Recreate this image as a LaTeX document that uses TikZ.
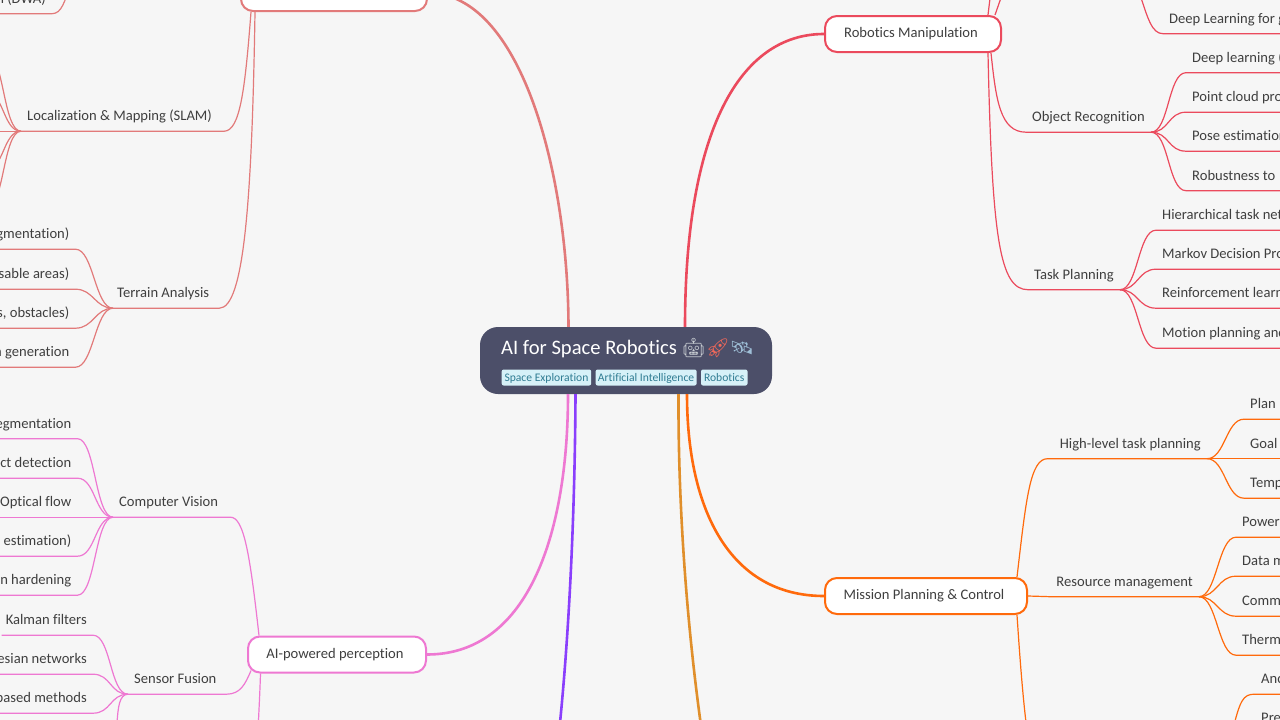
\documentclass[tikz,border=0pt]{standalone}
\usepackage{fontspec}
\setmainfont{Carlito}[Ligatures=CommonOff]
\newfontfamily\emojifont{Noto Emoji}
\usetikzlibrary{positioning}
\definecolor{paper}{HTML}{F6F6F6}
\definecolor{ink}{HTML}{3F3F3F}
\definecolor{rootfill}{HTML}{4C4F69}
\definecolor{tagfill}{HTML}{D6F1F8}
\definecolor{tagtext}{HTML}{2F7C92}
\definecolor{salmon}{HTML}{E27A7A}
\definecolor{rosered}{HTML}{EB4A5D}
\definecolor{orchid}{HTML}{EE78D2}
\definecolor{violet}{HTML}{8A3FFC}
\definecolor{amber}{HTML}{E08F2B}
\definecolor{tangerine}{HTML}{FF6A0C}
\definecolor{robotgrey}{HTML}{C9CED3}
\definecolor{rocketred}{HTML}{F0685A}
\definecolor{satblue}{HTML}{9FC0D8}
\tikzset{
lbl/.style={font=\fontsize{14.6}{16}\selectfont, text=ink, minimum height=30pt, inner xsep=6pt, inner ysep=0pt, text height=11.3pt, text depth=1.7pt},
branch/.style={font=\fontsize{14.6}{16}\selectfont, text=ink, fill=white, line width=2pt, rounded corners=12pt, minimum height=36pt, execute at end node=\hspace*{4pt}},
tagbox/.style={font=\fontsize{11.6}{12}\selectfont, text=tagtext, fill=tagfill, rounded corners=2pt, minimum height=16pt, inner sep=0pt, text height=9pt, text depth=1.5pt},
twig/.style={line width=1.2pt},
trunk/.style={line width=2.6pt}}

\begin{document}
\begin{tikzpicture}[x=1pt,y=-1pt]
        \useasboundingbox (0,0) rectangle (1280,720);
        \clip (0,0) rectangle (1280,720);
        \fill[paper] (0,0) rectangle (1280,720);

        \node (root) [fill=rootfill, rounded corners=18pt, minimum width=292pt, minimum height=67pt, inner sep=0pt] at (626,360.5) {};
        \node (title) [anchor=west, inner sep=0pt, text=white, font=\fontsize{20.6}{22}\selectfont] at (501,348.5) {AI for Space Robotics {\emojifont\fontsize{19}{22}\selectfont\textcolor{robotgrey}{🤖}\textcolor{rocketred}{🚀}\textcolor{satblue}{🛰}}};
        \node (tagspace) [tagbox, anchor=west, minimum width=89.5pt] at (501.5,377.5) {Space Exploration};
        \node (tagai) [tagbox, right=4pt of tagspace, minimum width=101pt] {Artificial Intelligence};
        \node (tagrobo) [tagbox, right=4pt of tagai, minimum width=46.5pt] {Robotics};

        \node (nav) [branch, draw=salmon, minimum width=186pt] at (334,-7) {};
        \node (manip) [branch, draw=rosered, minimum width=176pt] at (913,34) {Robotics Manipulation};
        \node (mission) [branch, draw=tangerine, minimum width=202pt] at (926,596) {Mission Planning \& Control};
        \node (percep) [branch, draw=orchid, minimum width=178pt] at (337,654.5) {AI-powered perception};

        \draw[trunk,salmon] ([xshift=-57.5pt]root.north) .. controls (568,170) and (520,-7) .. (nav.east);
        \draw[trunk,rosered] ([xshift=59pt]root.north) .. controls (685,130) and (740,34) .. (manip.west);
        \draw[trunk,orchid] ([xshift=-58pt]root.south) .. controls (568,530) and (530,654.5) .. (percep.east);
        \coordinate (violetend) at (556,760);
        \draw[trunk,violet] ([xshift=-50.5pt]root.south) .. controls (575,500) and (570,640) .. (violetend);
        \coordinate (amberend) at (706,760);
        \draw[trunk,amber] ([xshift=52.5pt]root.south) .. controls (678,500) and (686,630) .. (amberend);
        \draw[trunk,tangerine] ([xshift=61pt]root.south) .. controls (687,510) and (730,596) .. (mission.west);

        \node (objrec) [lbl, anchor=east] at (1151,117) {Object Recognition};
        \node (task) [lbl, anchor=east] at (1120,274.5) {Task Planning};
        \node (dlgrasp) [lbl, anchor=west] at (1163,18.5) {Deep Learning for g};
        \node (dlobj) [lbl, anchor=west] at (1186,57.5) {Deep learning (};
        \node (cloud) [lbl, anchor=west] at (1186,97) {Point cloud pro};
        \node (pose) [lbl, anchor=west] at (1186,136) {Pose estimation};
        \node (robust) [lbl, anchor=west] at (1186,175.5) {Robustness to};
        \node (htn) [lbl, anchor=west] at (1156,215) {Hierarchical task net};
        \node (mdp) [lbl, anchor=west] at (1156,254) {Markov Decision Pro};
        \node (rl) [lbl, anchor=west] at (1156,293) {Reinforcement learn};
        \node (motion) [lbl, anchor=west] at (1156,333) {Motion planning and};

        \coordinate (manipupa) at (991,-10);
        \coordinate (manipupb) at (1003,-8);
        \draw[twig,rosered] ([xshift=-14pt]manip.north east) -- (manipupa);
        \draw[twig,rosered] ([xshift=-7pt]manip.north east) -- (manipupb);
        \draw[twig,rosered] (objrec.south east) -- (objrec.south west) .. controls (1000,132) and (996,100) .. ([xshift=-11pt]manip.south east);
        \draw[twig,rosered] (task.south east) -- (task.south west) .. controls (1000,289.5) and (992,240) .. ([xshift=-14pt]manip.south east);
        \coordinate (graspfan) at (1138,-12);
        \draw[twig,rosered] (graspfan) .. controls (1148,20) and (1152,33.5) .. (dlgrasp.south west) -- ++(150,0);
        \foreach \leaf in {dlobj,cloud,pose,robust}
            \draw[twig,rosered] (objrec.south east) .. controls +(18,0) and +(-18,0) .. (\leaf.south west) -- ++(120,0);
        \foreach \leaf in {htn,mdp,rl,motion}
            \draw[twig,rosered] (task.south east) .. controls +(18,0) and +(-18,0) .. (\leaf.south west) -- ++(150,0);

        \node (high) [lbl, anchor=east] at (1207,443.5) {High-level task planning};
        \node (resource) [lbl, anchor=east] at (1199,581.5) {Resource management};
        \node (plan) [lbl, anchor=west] at (1244,404) {Plan};
        \node (goal) [lbl, anchor=west] at (1244,443.5) {Goal};
        \node (temp) [lbl, anchor=west] at (1244,483) {Temp};
        \node (power) [lbl, anchor=west] at (1236,522) {Power};
        \node (datam) [lbl, anchor=west] at (1236,561) {Data m};
        \node (comm) [lbl, anchor=west] at (1236,601) {Comm};
        \node (therm) [lbl, anchor=west] at (1236,640) {Therm};
        \node (anc) [lbl, anchor=west] at (1255,679) {Anc};
        \node (pre) [lbl, anchor=west] at (1255,718) {Pre};

        \draw[twig,tangerine] (high.south east) -- (high.south west) -- ++(-6,0) .. controls (1030,458.5) and (1026,500) .. ([xshift=-11pt]mission.north east);
        \draw[twig,tangerine] (resource.south east) -- (resource.south west) -- (mission.east);
        \coordinate (mishdown) at (1027,730);
        \draw[twig,tangerine] ([xshift=-11pt]mission.south east) .. controls (1020,660) and (1023,700) .. (mishdown);
        \foreach \leaf in {plan,goal,temp}
            \draw[twig,tangerine] (high.south east) .. controls +(18,0) and +(-18,0) .. (\leaf.south west) -- ++(60,0);
        \foreach \leaf in {power,datam,comm,therm}
            \draw[twig,tangerine] (resource.south east) .. controls +(18,0) and +(-18,0) .. (\leaf.south west) -- ++(60,0);
        \coordinate (ancfan) at (1232,733);
        \draw[twig,tangerine] (ancfan) .. controls (1240,700) and (1243,694) .. (anc.south west) -- ++(40,0);

        \node (slam) [lbl, anchor=west] at (21,116) {Localization \& Mapping (SLAM)};
        \node (terrain) [lbl, anchor=west, inner xsep=4pt] at (113,293) {Terrain Analysis};
        \node (dwa) [lbl, anchor=east] at (52,-1.5) {n (DWA)};
        \node (segm) [lbl, anchor=east] at (75.5,234) {gmentation)};
        \node (sable) [lbl, anchor=east] at (75.5,274) {sable areas)};
        \node (obst) [lbl, anchor=east] at (75.5,313) {s, obstacles)};
        \node (pathgen) [lbl, anchor=east] at (75.5,352) {n generation};

        \coordinate (dwafan) at (72,-18);
        \draw[twig,salmon] (dwafan) .. controls (64,2) and (62,13.5) .. (dwa.south east) -- ++(-60,0);
        \foreach \off in {(-14,52),(-14,92),(-14,170),(-14,210)}
            \draw[twig,salmon] (slam.south west) .. controls +(-18,0) and +(18,0) .. \off;
        \draw[twig,salmon] (slam.south west) -- ++(-30,0);
        \draw[twig,salmon] (slam.south west) -- (slam.south east) -- ++(6,0) .. controls (240,131) and (245,90) .. ([xshift=11pt]nav.south west);
        \draw[twig,salmon] (terrain.south west) -- (terrain.south east) -- ++(6,0) .. controls (244,308) and (252,200) .. ([xshift=15pt]nav.south west);
        \foreach \leaf in {segm,sable,obst,pathgen}
            \draw[twig,salmon] (terrain.south west) .. controls +(-18,0) and +(18,0) .. (\leaf.south east) -- ++(-90,0);

        \node (vision) [lbl, anchor=west] at (113,502) {Computer Vision};
        \node (fusion) [lbl, anchor=west] at (128,679) {Sensor Fusion};
        \node (imgseg) [lbl, anchor=east] at (77.5,423.5) {egmentation};
        \node (objdet) [lbl, anchor=east] at (77.5,463) {ct detection};
        \node (flow) [lbl, anchor=east] at (77.5,502) {Optical flow};
        \node (depth) [lbl, anchor=east] at (77.5,541) {estimation)};
        \node (harden) [lbl, anchor=east] at (77.5,580) {n hardening};
        \node (kalman) [lbl, anchor=east] at (93,620) {Kalman filters};
        \node (bayes) [lbl, anchor=east] at (93,659) {esian networks};
        \node (based) [lbl, anchor=east] at (93,698) {based methods};

        \draw[twig,orchid] (vision.south west) -- (vision.south east) -- ++(6,0) .. controls (244,517) and (250,555) .. ([xshift=12pt]percep.north west);
        \draw[twig,orchid] (fusion.south west) -- (fusion.south east) -- ++(4,0) .. controls (240,694) and (245,685) .. ([xshift=4pt,yshift=3pt]percep.south west);
        \coordinate (percepdown) at (258,730);
        \draw[twig,orchid] ([xshift=13.5pt]percep.south west) .. controls (260,690) and (259,710) .. (percepdown);
        \foreach \leaf in {imgseg,objdet,flow,depth,harden}
            \draw[twig,orchid] (vision.south west) .. controls +(-18,0) and +(18,0) .. (\leaf.south east) -- ++(-90,0);
        \draw[twig,orchid] (fusion.south west) .. controls +(-18,0) and +(18,0) .. (kalman.south east) -- ++(-91.5,0);
        \foreach \leaf in {bayes,based}
            \draw[twig,orchid] (fusion.south west) .. controls +(-18,0) and +(18,0) .. (\leaf.south east) -- ++(-100,0);
        \coordinate (fusiondown) at (106,752);
        \draw[twig,orchid] (fusion.south west) .. controls +(-18,0) and +(18,0) .. (fusiondown);
\end{tikzpicture}
\end{document}
